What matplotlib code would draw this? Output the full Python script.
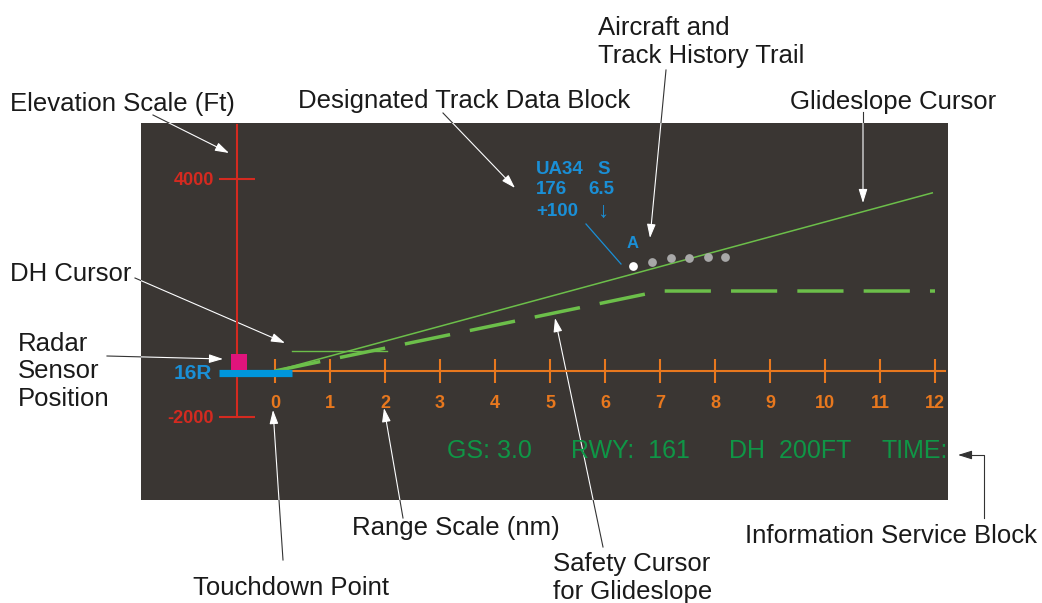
import matplotlib
matplotlib.use("Agg")
import matplotlib.pyplot as plt
from matplotlib.patches import Rectangle, FancyArrowPatch

plt.rcParams["font.family"] = ["Liberation Sans", "DejaVu Sans"]

# --- scope contents: range in nm, elevation in ft ---
range_ticks = list(range(0, 13))
elev_ticks = [4000, -2000]
elev_labels = ["4000", "-2000"]
elev_scale_nm = -0.69
elev_scale_top_ft = 5360
baseline_ft = -840          # range scale sits here
range_axis_end_nm = 12.18

glideslope_nm = [0, 11.95]
glideslope_ft = [-840, 3650]
safety_nm = [0, 7.0, 12.0]
safety_ft = [-840, 1176, 1176]
dh_nm = [0.31, 2.04]
dh_ft = [-336, -336]

aircraft_nm, aircraft_ft = 6.51, 1807
trail_nm = [6.85, 7.2, 7.53, 7.87, 8.18]
trail_ft = [1907, 2008, 2008, 2034, 2034]

runway_nm = [-1.02, 0.31]
runway_ft = -903
runway_name = "16R"
sensor_nm, sensor_ft = -0.66, -601

data_block = [("UA34", "S"), ("176", "6.5"), ("+100", "\u2193")]
info_items = ["GS: 3.0", "RWY:  161", "DH  200FT", "TIME:"]

# --- colours ---
PANEL = "#3a3633"
RED = "#d42a20"
ORANGE = "#e8781e"
LGREEN = "#6cbf4a"
DGREEN = "#0f9646"
BLUE = "#1a8fd6"
BAR_BLUE = "#0096dc"
MAGENTA = "#e0147c"
INK = "#1a1a1a"

# pixel anchors of the scope scale
X0_PX, PX_PER_NM = 275, 55.0
Y4000_PX, FT_PER_PX = 179, 6000 / 238.0

fig = plt.figure(figsize=(10.42, 6.03), dpi=100)

# layout layer in pixels
lay = fig.add_axes([0, 0, 1, 1])
lay.set_xlim(0, 1042)
lay.set_ylim(603, 0)
lay.axis("off")

panel = Rectangle((141, 123), 807, 377, facecolor=PANEL, edgecolor="none", zorder=0)
lay.add_patch(panel)

# scope layer in nm / ft
sc = fig.add_axes([0, 0, 1, 1])
sc.set_xlim(-X0_PX / PX_PER_NM, (1042 - X0_PX) / PX_PER_NM)
sc.set_ylim(4000 - (603 - Y4000_PX) * FT_PER_PX, 4000 + Y4000_PX * FT_PER_PX)
sc.axis("off")
sc.patch.set_alpha(0)

# elevation scale
sc.plot([elev_scale_nm, elev_scale_nm], [elev_ticks[-1], elev_scale_top_ft], color=RED, lw=1.5)
sc.plot([elev_scale_nm] * len(elev_ticks), elev_ticks, ls="none", marker="_",
        ms=26, mew=1.5, color=RED)
for ft, lab in zip(elev_ticks, elev_labels):
    sc.annotate(lab, (elev_scale_nm, ft), xytext=(-16.5, -1), textcoords="offset points",
                ha="right", va="center", color=RED, fontsize=13, fontweight="bold")

# range scale
sc.plot([0, range_axis_end_nm], [baseline_ft, baseline_ft], color=ORANGE, lw=1.5)
sc.plot(range_ticks, [baseline_ft] * len(range_ticks), ls="none", marker="|",
        ms=17, mew=1.5, color=ORANGE)
for nm in range_ticks:
    sc.annotate(str(nm), (nm, baseline_ft), xytext=(0, -23.5), textcoords="offset points",
                ha="center", va="center", color=ORANGE, fontsize=13, fontweight="bold")

# runway and radar sensor
sc.plot(runway_nm, [runway_ft, runway_ft], color=BAR_BLUE, lw=5.2, solid_capstyle="butt", zorder=4)
sc.plot(sensor_nm, sensor_ft, marker="s", ms=11.5, color=MAGENTA, mew=0, zorder=4)
sc.annotate(runway_name, (runway_nm[0], runway_ft), xytext=(-5, 0), textcoords="offset points",
            ha="right", va="center", color=BLUE, fontsize=15, fontweight="bold")

# cursors
sc.plot(glideslope_nm, glideslope_ft, color=LGREEN, lw=1.1, zorder=3)
sc.plot(safety_nm, safety_ft, color=LGREEN, lw=2.5, dashes=(13.3, 5.8),
        solid_capstyle="butt", dash_capstyle="butt", zorder=3)
sc.plot(dh_nm, dh_ft, color=LGREEN, lw=1.0, zorder=3)

# aircraft and trail
sc.plot(trail_nm, trail_ft, ls="none", marker="o", ms=6.3, color="#a8a8a8", mew=0, zorder=5)
sc.plot(aircraft_nm, aircraft_ft, marker="o", ms=6.3, color="white", mew=0, zorder=5)
sc.annotate("A", (aircraft_nm, aircraft_ft), xytext=(0, 16), textcoords="offset points",
            ha="center", va="center", color=BLUE, fontsize=12, fontweight="bold")

# data block (pixel layout)
row_y = [169, 190, 212]
for (left, right), y in zip(data_block, row_y):
    lay.text(536, y, left, ha="left", va="center", color=BLUE, fontsize=13.5, fontweight="bold")
    if right == "\u2193":
        lay.text(603, y - 1, right, ha="center", va="center", color=BLUE, fontsize=16)
    else:
        lay.text(588 if right == "6.5" else 597, y, right, ha="left", va="center",
                 color=BLUE, fontsize=13.5, fontweight="bold")
lay.plot([586, 621], [224, 264], color=BLUE, lw=0.9)

# information service block
for txt, x in zip(info_items, [447, 571, 729, 881]):
    lay.text(x, 451, txt, ha="left", va="center", color=DGREEN, fontsize=18)

# callouts: text lines, text origin, arrow start, arrow tip
callouts = [
    (["Aircraft and", "Track History Trail"], (598, 28), (666, 70), (650, 238)),
    (["Elevation Scale (Ft)"], (10, 104), (153, 115), (229, 153)),
    (["Designated Track Data Block"], (298, 101), (443, 113), (515, 188)),
    (["Glideslope Cursor"], (790, 102), (863, 112), (863, 203)),
    (["DH Cursor"], (10, 274), (135, 278), (285, 343)),
    (["Radar", "Sensor", "Position"], (18, 344), (107, 356), (223, 359)),
    (["Range Scale (nm)"], (352, 528), (403, 518), (384, 408)),
    (["Touchdown Point"], (193, 588), (283, 560), (273, 410)),
    (["Safety Cursor", "for Glideslope"], (553, 564), (603, 547), (555, 318)),
]
for lines, (tx, ty), start, tip in callouts:
    for i, line in enumerate(lines):
        lay.text(tx, ty + 27.5 * i, line, ha="left", va="center", color=INK, fontsize=18.5)
    lay.plot([start[0], tip[0]], [start[1], tip[1]], color="#333333", lw=0.8, zorder=1)
    arr = FancyArrowPatch(start, tip, arrowstyle="-|>,head_length=0.7,head_width=0.22",
                          mutation_scale=12, color="white", lw=0.8, shrinkA=0, shrinkB=0,
                          zorder=2)
    lay.add_patch(arr)
    arr.set_clip_path(panel)

lay.text(745, 536, "Information Service Block", ha="left", va="center", color=INK, fontsize=18.5)
lay.plot([984, 984, 970], [518, 455, 455], color="#333333", lw=0.8)
lay.add_patch(FancyArrowPatch((970, 455), (958, 455), arrowstyle="-|>,head_length=0.7,head_width=0.22",
                              mutation_scale=12, color="#333333", lw=0.8, shrinkA=0, shrinkB=0))

fig.savefig("out.png", dpi=100)
